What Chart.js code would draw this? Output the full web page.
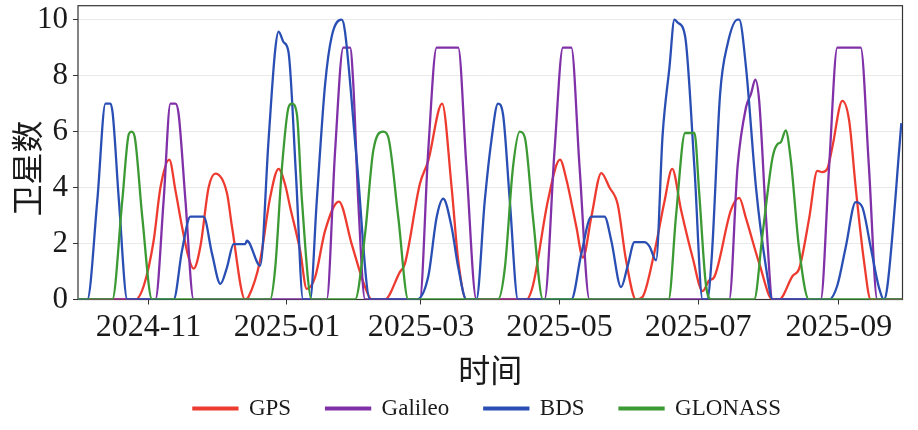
<!DOCTYPE html>
<html>
<head>
<meta charset="utf-8">
<title>卫星数</title>
<script src="https://cdn.jsdelivr.net/npm/chart.js@4.4.1/dist/chart.umd.min.js"></script>
<style>
  html, body { margin: 0; padding: 0; background: #fff; }
  #wrap { width: 918px; height: 430px; }
</style>
</head>
<body>
<div id="wrap"><canvas id="satChart"></canvas></div>
<script>
// x = days since 2024-10-01, y = number of satellites
const tickDays = [31, 92, 151, 212, 273, 335];
const tickLabels = ['2024-11', '2025-01', '2025-03', '2025-05', '2025-07', '2025-09'];
const yTicks = [0, 2, 4, 6, 8, 10];
const seriesNames = ['GPS', 'Galileo', 'BDS', 'GLONASS'];

const gpsPoints = [[0,0],[25.3,0],[29,0.5],[33.3,2.1],[36.3,4.0],[40.2,5.0],[42.9,3.9],[45.8,2.6],[48.7,1.5],[50.9,1.1],
  [53.9,1.9],[57.5,4.0],[60.5,4.5],[65.6,3.8],[67.8,2.6],[73.6,0],[75.1,0.1],[80.2,1.4],[84.6,3.65],[88.3,4.67],
  [91.2,4.1],[93.4,3.3],[97.8,1.75],[100.7,0.38],[104.4,0.8],[108.8,2.46],[114.9,3.5],[120.5,1.98],[126.4,0.44],[129.3,0],
  [135.1,0],[141.7,0.98],[143.9,1.27],[150.5,4.13],[154.2,4.96],[160.3,7.0],[164.5,4.0],[167.4,1.4],[171,0],[197.4,0],
  [200.3,0.5],[206.9,3.54],[212.2,5.0],[215,4.3],[219.4,2.6],[222.3,1.5],[226,2.95],[230.4,4.52],[234,4.0],[237.6,3.4],
  [241.3,1.4],[245.7,0],[248.6,0.1],[253.8,1.7],[258.2,3.5],[261.6,4.67],[265.5,3.2],[270.6,1.5],[275,0.3],[277.9,0.68],
  [280.1,0.8],[287.5,3.2],[291.1,3.63],[294.1,2.9],[299.9,1.3],[305.8,0],[308.7,0],[314.6,0.84],[317.5,1.1],[321.9,2.9],
  [325.5,4.6],[327.7,4.55],[329.9,4.67],[332.1,5.44],[336.5,7.1],[339.5,6.4],[342.4,4.0],[346,1.4],[349,0],[363,0]];

const galileoPoints = [[0,0],[34.1,0],[37.7,3.54],[40.7,7],[42.9,7],[44.3,6.63],[47.3,3.54],[50.9,0],
  [109.5,0],[113.2,5.32],[116.8,9],[119.8,9],[121.2,7.7],[123.4,3.5],[126.4,0],
  [150.5,0],[154.2,5.32],[157.9,9],[167.4,9],[171,4.76],[175.4,0],
  [205.4,0],[209.8,5.32],[213.5,9],[217.2,9],[220.8,4.76],[225.2,0],
  [286.7,0],[290.4,4.76],[294.1,6.87],[296.3,7.35],[298.2,7.86],[299.9,7.1],[302.9,2.94],[305.8,0],
  [327,0],[330.7,4.76],[334.3,9],[344.6,9],[348.2,4.76],[351.9,0],[363,0]];

const bdsPoints = [[0,0],[4.1,0],[8.5,3.54],[12.1,7],[14.3,7],[15.3,6.63],[18,3.54],[21.7,0],
  [42.1,0],[45.8,1.75],[49.5,2.96],[55.3,2.96],[59,1.64],[62.7,0.56],[65.6,1.15],[68.5,1.98],[73.6,1.98],[74.4,2.1],[80.2,1.21],
  [83.9,5.7],[86.8,8.9],[88.3,9.57],[90.5,9.2],[92.7,8.83],[96,4.4],[99.1,0],[102.2,0],[105.1,3.5],[108.8,7.7],[111.7,9.4],
  [116.1,10],[117.5,9.6],[122.7,5],[128.6,0],[149.1,0],[154.2,0.82],[157.9,2.94],[160.8,3.6],[164.5,2.58],[167.4,1.15],[171,0],
  [175.4,0],[179.1,3.54],[182,5.68],[184.9,7],[187.1,6.63],[190.1,3.54],[193.7,0],
  [217.2,0],[221.6,1.64],[226,2.96],[231.8,2.96],[234.8,2.1],[239.1,0.44],[242,1.2],[245,2.05],[249.4,2.05],[251.6,1.9],[254.5,1.4],
  [257.4,5.9],[260.4,8.3],[262.6,10],[264,9.9],[267.3,9.4],[271.4,4.7],[275,0],[277,0],[279,1.5],[282.7,7.35],[286,9.13],
  [290.4,10],[291.1,10],[294.1,8.3],[298.5,4.0],[302.9,1.15],[305.8,0],[330.7,0],[334.3,0.5],[338,1.87],[342.4,3.48],[345.3,3.3],
  [349,1.87],[352.6,0.44],[354.8,0],[356.3,0.44],[362.5,6.3]];

const glonassPoints = [[0,0],[15.1,0],[19.5,3.54],[22.4,5.92],[23.6,6],[25,5.8],[28.3,2.94],[32.6,0],
  [84.6,0],[86.8,1.1],[89.8,4.72],[92.7,6.87],[94.2,7],[96.4,6.6],[98.6,3.54],[102.9,0],
  [122,0],[126.4,2.35],[130,5.32],[134.4,6],[136.6,5.8],[141,2.94],[145.4,0],
  [184.9,0],[187.9,1.1],[191.5,4.72],[194.5,6],[196.7,5.8],[200.3,2.94],[204.7,0],
  [260,0],[263.3,3],[267.3,5.95],[271.4,5.95],[273.5,3.8],[276.5,0.5],[279,0],
  [297.7,0],[301.4,2.35],[305.8,5.08],[308,5.56],[309.4,5.62],[311.6,6.04],[313.8,5.0],[317.5,1.8],[321.8,0],[363,0]];

const seriesPoints = [gpsPoints, galileoPoints, bdsPoints, glonassPoints];
const seriesColors = ['#ee3b30', '#8131a8', '#2a4fb4', '#3c9a34'];

const serif = 'Liberation Serif, Times New Roman, serif';
const cjk = 'Noto Sans CJK SC, sans-serif';
const textColor = '#1a1a1a';
const plotBottom = 299.5;

// box around the plot area, drawn under the lines
const plotFrame = {
    id: 'plotFrame',
    beforeDatasetsDraw(chart) {
        const {ctx, chartArea: a} = chart;
        ctx.save();
        ctx.strokeStyle = '#333';
        ctx.lineWidth = 1.2;
        ctx.strokeRect(a.left, a.top, a.right - a.left, a.bottom - a.top);
        ctx.restore();
    }
};

// legend sits centred under the plot area rather than the whole canvas
const legendShift = {
    id: 'legendShift',
    afterLayout(chart) {
        chart.legend.left += 36;
        chart.legend.right += 36;
    }
};

const datasets = seriesNames.map((name, i) => ({
    label: name,
    data: seriesPoints[i].map(p => ({x: p[0], y: p[1]})),
    borderColor: seriesColors[i],
    backgroundColor: seriesColors[i],
    borderWidth: 2.3,
    pointRadius: 0,
    cubicInterpolationMode: 'monotone',
    order: seriesNames.length - i
}));

new Chart(document.getElementById('satChart'), {
    type: 'line',
    data: {datasets},
    plugins: [plotFrame, legendShift],
    options: {
        responsive: true,
        maintainAspectRatio: false,
        animation: false,
        layout: {padding: {top: 5.7, right: 15.5, bottom: 0, left: 0}},
        plugins: {
            legend: {
                position: 'bottom',
                labels: {
                    boxWidth: 44,
                    boxHeight: 1.5,
                    padding: 35,
                    color: textColor,
                    font: {family: serif, size: 23},
                    sort: (a, b) => a.datasetIndex - b.datasetIndex
                }
            },
            tooltip: {enabled: false}
        },
        scales: {
            x: {
                type: 'linear',
                min: 0,
                max: 363,
                afterBuildTicks: s => { s.ticks = tickDays.map(v => ({value: v})); },
                afterFit: s => {
                    s.height = s.chart.height - s.chart.legend.height - plotBottom;
                    s.paddingLeft = 0;
                    s.paddingRight = 0;
                },
                ticks: {
                    callback: (v, i) => tickLabels[i],
                    autoSkip: false,
                    maxRotation: 0,
                    padding: 4,
                    color: textColor,
                    font: {family: serif, size: 32}
                },
                grid: {drawOnChartArea: false, tickLength: 5, tickColor: '#333'},
                border: {display: false},
                title: {
                    display: true,
                    text: '时间',
                    color: textColor,
                    font: {family: cjk, size: 32},
                    padding: {top: 0, bottom: -27}
                }
            },
            y: {
                min: 0,
                max: 10.5,
                afterBuildTicks: s => { s.ticks = yTicks.map(v => ({value: v})); },
                afterFit: s => {
                    s.width = 78;
                    s.paddingTop = 0;
                    s.paddingBottom = 0;
                },
                ticks: {
                    padding: 5,
                    color: textColor,
                    font: {family: serif, size: 31}
                },
                grid: {color: '#e9e9e9', tickLength: 5, tickColor: '#333'},
                border: {display: false},
                title: {
                    display: true,
                    text: '卫星数\u3000',
                    color: textColor,
                    font: {family: cjk, size: 32},
                    padding: {top: 8, bottom: 0}
                }
            }
        }
    }
});
</script>
</body>
</html>
